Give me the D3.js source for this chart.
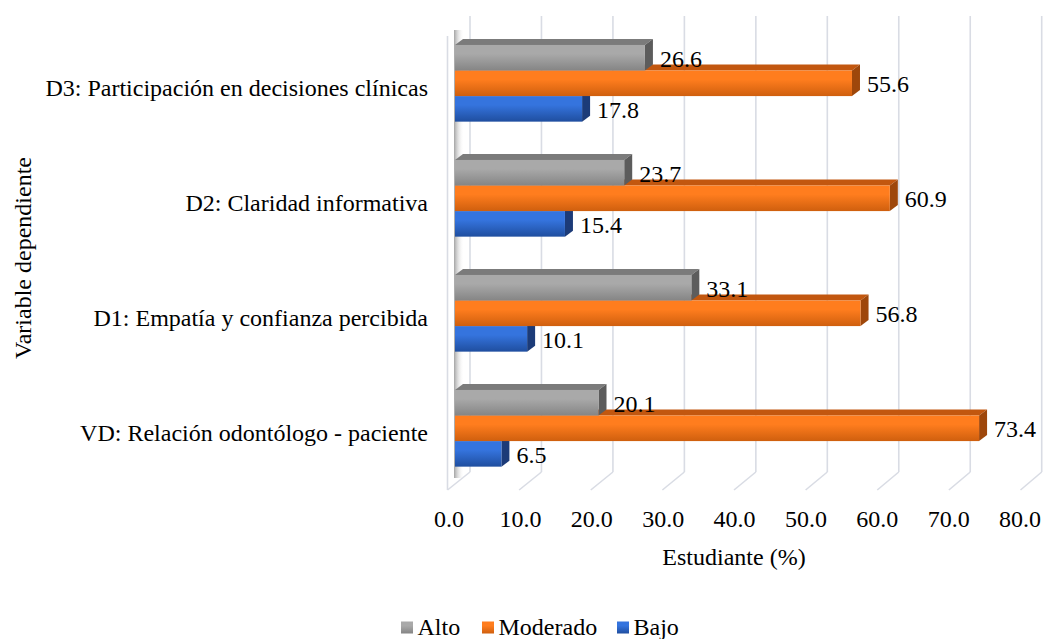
<!DOCTYPE html>
<html>
<head>
<meta charset="utf-8">
<script src="https://cdn.jsdelivr.net/npm/d3@7"></script>
<style>
  @font-face { font-family: "RefSerif"; src: local("Liberation Serif"), local("LiberationSerif"), local("LiberationSerif-Regular"), local("Times New Roman"); }
</style>
</head>
<body style="margin:0">
<svg id="chart" width="1043" height="639"></svg>
<script>
// ---- data ----
const categories = [
  "D3: Participación en decisiones clínicas",
  "D2: Claridad informativa",
  "D1: Empatía y confianza percibida",
  "VD: Relación odontólogo - paciente"
];
const seriesNames = ["Alto", "Moderado", "Bajo"];
const alto     = [26.6, 23.7, 33.1, 20.1];
const moderado = [55.6, 60.9, 56.8, 73.4];
const bajo     = [17.8, 15.4, 10.1, 6.5];
const tickValues = [0, 10, 20, 30, 40, 50, 60, 70, 80];
const tickLabels = ["0.0", "10.0", "20.0", "30.0", "40.0", "50.0", "60.0", "70.0", "80.0"];
const axisTitleX = "Estudiante (%)";
const axisTitleY = "Variable dependiente";

// ---- styling ----
const FONT = "Times New Roman";
const FS = 24;
const colors = {
  Alto:     { top0: "#a9a9a9", top1: "#858585", lid: "#7b7b7b", side: "#5c5c5c" },
  Moderado: { top0: "#ff7d1e", top1: "#cf5f0e", lid: "#c2570f", side: "#9e470b" },
  Bajo:     { top0: "#3574de", top1: "#1f4e9f", lid: "#2a58a8", side: "#1c3b78" }
};
const values = { Alto: alto, Moderado: moderado, Bajo: bajo };
const DX = 8, DY = -6;

const svg = d3.select("#chart");
const defs = svg.append("defs");
seriesNames.forEach(s => {
  const g = defs.append("linearGradient").attr("id", "grad-" + s)
    .attr("x1", 0).attr("y1", 0).attr("x2", 0).attr("y2", 1);
  g.append("stop").attr("offset", "0%").attr("stop-color", colors[s].top0);
  g.append("stop").attr("offset", "35%").attr("stop-color", colors[s].top0);
  g.append("stop").attr("offset", "100%").attr("stop-color", colors[s].top1);
});
const sh = defs.append("linearGradient").attr("id", "wallShadow")
  .attr("x1", 0).attr("y1", 0).attr("x2", 1).attr("y2", 0);
sh.append("stop").attr("offset", "0%").attr("stop-color", "#9a9a9a").attr("stop-opacity", 0.9);
sh.append("stop").attr("offset", "100%").attr("stop-color", "#ffffff").attr("stop-opacity", 0);

// ---- scales ----
const xBar   = d3.scaleLinear().domain([0, 80]).range([455, 1026.2]);
const xBack  = d3.scaleLinear().domain([0, 80]).range([470, 1041.7]);
const xFloor = d3.scaleLinear().domain([0, 80]).range([447.5, 1020.5]);
const xLabel = d3.scaleLinear().domain([0, 80]).range([449, 1020]);
const yCat = d3.scaleBand().domain(categories).range([25.8, 485.8]).padding(0);
const groupH = 76.7;
const ySer = d3.scaleBand().domain(seriesNames).range([0, groupH]).padding(0);

const gridColor = "#d9dce4";
const backTop = 16, backBottom = 472, floorFront = 490;

function txt(sel) {
  return sel.attr("font-family", FONT).attr("font-size", FS);
}

// ---- walls & gridlines ----
const grid = svg.append("g");
grid.selectAll("line.back").data(tickValues).join("line")
  .attr("x1", d => xBack(d)).attr("x2", d => xBack(d))
  .attr("y1", backTop).attr("y2", backBottom)
  .attr("stroke", gridColor).attr("stroke-width", 1.6);
grid.selectAll("line.floor").data(tickValues).join("line")
  .attr("x1", d => xBack(d)).attr("y1", backBottom)
  .attr("x2", d => xFloor(d)).attr("y2", floorFront)
  .attr("stroke", gridColor).attr("stroke-width", 1.6);
grid.append("line")
  .attr("x1", xFloor(0)).attr("x2", xFloor(0))
  .attr("y1", 36).attr("y2", floorFront)
  .attr("stroke", gridColor).attr("stroke-width", 1.6);
grid.append("rect")
  .attr("x", xBar(0) - 1).attr("y", 30).attr("width", 10).attr("height", 448)
  .attr("fill", "url(#wallShadow)");

// ---- bars ----
const bars = svg.append("g");
categories.forEach((cat, i) => {
  const gy = yCat(cat) + yCat.bandwidth() / 2 - groupH / 2;
  seriesNames.slice().reverse().forEach(s => {
    const v = values[s][i];
    const x0 = xBar(0), x1 = xBar(v);
    const y0 = gy + ySer(s), y1 = y0 + ySer.bandwidth();
    const c = colors[s];
    const g = bars.append("g");
    g.append("polygon")
      .attr("points", [[x0, y0], [x1, y0], [x1 + DX, y0 + DY], [x0 + DX, y0 + DY]].map(p => p.join(",")).join(" "))
      .attr("fill", c.lid);
    g.append("polygon")
      .attr("points", [[x1, y0], [x1 + DX, y0 + DY], [x1 + DX, y1 + DY], [x1, y1]].map(p => p.join(",")).join(" "))
      .attr("fill", c.side);
    g.append("rect")
      .attr("x", x0).attr("y", y0).attr("width", x1 - x0).attr("height", y1 - y0)
      .attr("fill", "url(#grad-" + s + ")");
  });
});

// ---- value labels ----
categories.forEach((cat, i) => {
  const gy = yCat(cat) + yCat.bandwidth() / 2 - groupH / 2;
  seriesNames.forEach(s => {
    const v = values[s][i];
    const yc = gy + ySer(s) + ySer.bandwidth() / 2;
    txt(svg.append("text"))
      .attr("x", xBar(v) + 15).attr("y", yc + 9)
      .text(v.toFixed(1));
  });
});

// ---- category labels ----
categories.forEach(d => {
  txt(svg.append("text"))
    .attr("x", 428)
    .attr("y", yCat(d) + yCat.bandwidth() / 2 + 12.7)
    .attr("text-anchor", "end")
    .text(d);
});

// ---- x tick labels ----
tickValues.forEach((d, i) => {
  txt(svg.append("text"))
    .attr("x", xLabel(d)).attr("y", 527)
    .attr("text-anchor", "middle")
    .text(tickLabels[i]);
});

// ---- axis titles ----
txt(svg.append("text")).attr("x", 734).attr("y", 565)
  .attr("text-anchor", "middle").text(axisTitleX);
txt(svg.append("text"))
  .attr("transform", "translate(31,258) rotate(-90)")
  .attr("text-anchor", "middle").text(axisTitleY);

// ---- legend ----
const legendX = [401, 482, 617];
seriesNames.forEach((s, i) => {
  svg.append("rect").attr("x", legendX[i]).attr("y", 621.5)
    .attr("width", 12).attr("height", 12)
    .attr("fill", "url(#grad-" + s + ")");
  txt(svg.append("text")).attr("x", legendX[i] + 16.5).attr("y", 635).text(s);
});
</script>
</body>
</html>
